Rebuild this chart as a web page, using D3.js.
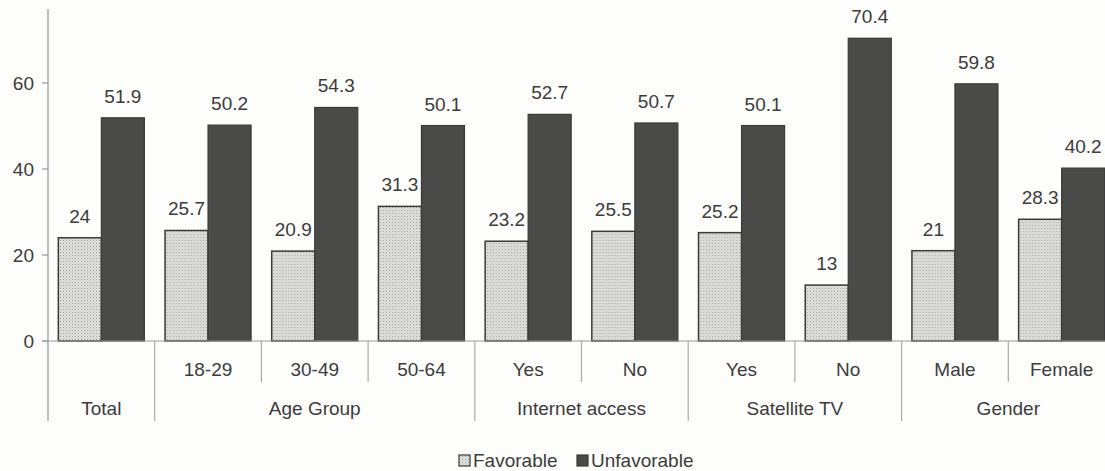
<!DOCTYPE html>
<html>
<head>
<meta charset="utf-8">
<script src="https://cdn.jsdelivr.net/npm/d3@7"></script>
<style>
  body { margin: 0; background: #fdfdfb; }
  svg { display: block; }
  text { font-family: "Liberation Sans", Arial, sans-serif; fill: #3c3c3c; }
</style>
</head>
<body>
<svg id="chart" width="1105" height="471"></svg>
<script>
// categories (bottom row) and their groups (second row)
var categories = ["Total", "18-29", "30-49", "50-64", "Yes", "No", "Yes", "No", "Male", "Female"];
var groups = [
  {name: "Total", from: 0, to: 0},
  {name: "Age Group", from: 1, to: 3},
  {name: "Internet access", from: 4, to: 5},
  {name: "Satellite TV", from: 6, to: 7},
  {name: "Gender", from: 8, to: 9}
];
var favorable   = [24, 25.7, 20.9, 31.3, 23.2, 25.5, 25.2, 13, 21, 28.3];
var unfavorable = [51.9, 50.2, 54.3, 50.1, 52.7, 50.7, 50.1, 70.4, 59.8, 40.2];
var series = ["Favorable", "Unfavorable"];
var yTicks = [0, 20, 40, 60];

var svg = d3.select("#chart");

// dotted fill for the light bars
var defs = svg.append("defs");
var pat = defs.append("pattern")
  .attr("id", "dots")
  .attr("width", 3).attr("height", 3)
  .attr("patternUnits", "userSpaceOnUse");
pat.append("rect").attr("width", 3).attr("height", 3).attr("fill", "#e2e2e0");
pat.append("rect").attr("x", 0).attr("y", 0).attr("width", 1).attr("height", 1).attr("fill", "#9a9a98");
pat.append("rect").attr("x", 1.5).attr("y", 1.5).attr("width", 1).attr("height", 1).attr("fill", "#b4b4b2");

var x0 = d3.scaleBand()
  .domain(d3.range(categories.length))
  .range([48, 1115])
  .padding(0);

var x1 = d3.scaleBand()
  .domain(series)
  .range([0, x0.bandwidth()])
  .paddingInner(0)
  .paddingOuter(0.24);

var y = d3.scaleLinear()
  .domain([0, 77.2])
  .range([341, 9]);

// y axis
svg.append("line")
  .attr("x1", 48).attr("x2", 48)
  .attr("y1", y(77.2)).attr("y2", 421)
  .attr("stroke", "#999").attr("stroke-width", 1.2);

svg.selectAll(".ytick").data(yTicks).enter().append("line")
  .attr("x1", 42).attr("x2", 48)
  .attr("y1", function (d) { return y(d); })
  .attr("y2", function (d) { return y(d); })
  .attr("stroke", "#999").attr("stroke-width", 1.2);

svg.selectAll(".ylab").data(yTicks).enter().append("text")
  .attr("x", 34)
  .attr("y", function (d) { return y(d); })
  .attr("dy", "0.36em")
  .attr("text-anchor", "end")
  .style("font-size", "19px")
  .text(function (d) { return d; });

// bars
var bars = svg.selectAll(".cat").data(categories).enter().append("g")
  .attr("transform", function (d, i) { return "translate(" + x0(i) + ",0)"; });

bars.append("rect")
  .attr("x", x1("Favorable"))
  .attr("y", function (d, i) { return y(favorable[i]); })
  .attr("width", x1.bandwidth())
  .attr("height", function (d, i) { return y(0) - y(favorable[i]); })
  .attr("fill", "url(#dots)")
  .attr("stroke", "#3a3a3a").attr("stroke-width", 1.5);

bars.append("rect")
  .attr("x", x1("Unfavorable"))
  .attr("y", function (d, i) { return y(unfavorable[i]); })
  .attr("width", x1.bandwidth())
  .attr("height", function (d, i) { return y(0) - y(unfavorable[i]); })
  .attr("fill", "#4a4a48")
  .attr("stroke", "#3a3a3a").attr("stroke-width", 1.2);

bars.append("text")
  .attr("x", x1("Favorable") + x1.bandwidth() / 2)
  .attr("y", function (d, i) { return y(favorable[i]) - 15; })
  .attr("text-anchor", "middle")
  .style("font-size", "19px")
  .text(function (d, i) { return favorable[i]; });

bars.append("text")
  .attr("x", x1("Unfavorable") + x1.bandwidth() / 2)
  .attr("y", function (d, i) { return y(unfavorable[i]) - 15; })
  .attr("text-anchor", "middle")
  .style("font-size", "19px")
  .text(function (d, i) { return unfavorable[i]; });

// baseline
svg.append("line")
  .attr("x1", 42).attr("x2", 1115)
  .attr("y1", y(0)).attr("y2", y(0))
  .attr("stroke", "#999").attr("stroke-width", 1.2);

// category separators: long at group edges, short inside groups
var groupStarts = groups.map(function (g) { return g.from; });
svg.selectAll(".sep").data(d3.range(1, categories.length + 1)).enter().append("line")
  .attr("x1", function (i) { return x0(0) + i * x0.step(); })
  .attr("x2", function (i) { return x0(0) + i * x0.step(); })
  .attr("y1", y(0))
  .attr("y2", function (i) { return (groupStarts.indexOf(i) >= 0 || i === categories.length) ? 421 : 382; })
  .attr("stroke", "#aaa").attr("stroke-width", 1.2);

// category labels (only for groups with more than one member)
svg.selectAll(".catlab").data(categories).enter().append("text")
  .filter(function (d, i) { return i > 0; })
  .attr("x", function (d, i) { return x0(i + 1) + x0.bandwidth() / 2; })
  .attr("y", 376)
  .attr("text-anchor", "middle")
  .style("font-size", "19px")
  .text(function (d) { return d; });

svg.selectAll(".grplab").data(groups).enter().append("text")
  .attr("x", function (g) { return (x0(g.from) + x0(g.to) + x0.bandwidth()) / 2; })
  .attr("y", 415)
  .attr("text-anchor", "middle")
  .style("font-size", "19px")
  .text(function (g) { return g.name; });

// legend
var legend = svg.append("g");
var lx = [459, 577];
var fills = ["url(#dots)", "#4a4a48"];
series.forEach(function (s, i) {
  legend.append("rect")
    .attr("x", lx[i]).attr("y", 455)
    .attr("width", 11).attr("height", 11)
    .attr("fill", fills[i])
    .attr("stroke", "#3a3a3a").attr("stroke-width", 1.2);
  legend.append("text")
    .attr("x", lx[i] + 14).attr("y", 467)
    .style("font-size", "19px")
    .text(s);
});
</script>
</body>
</html>
